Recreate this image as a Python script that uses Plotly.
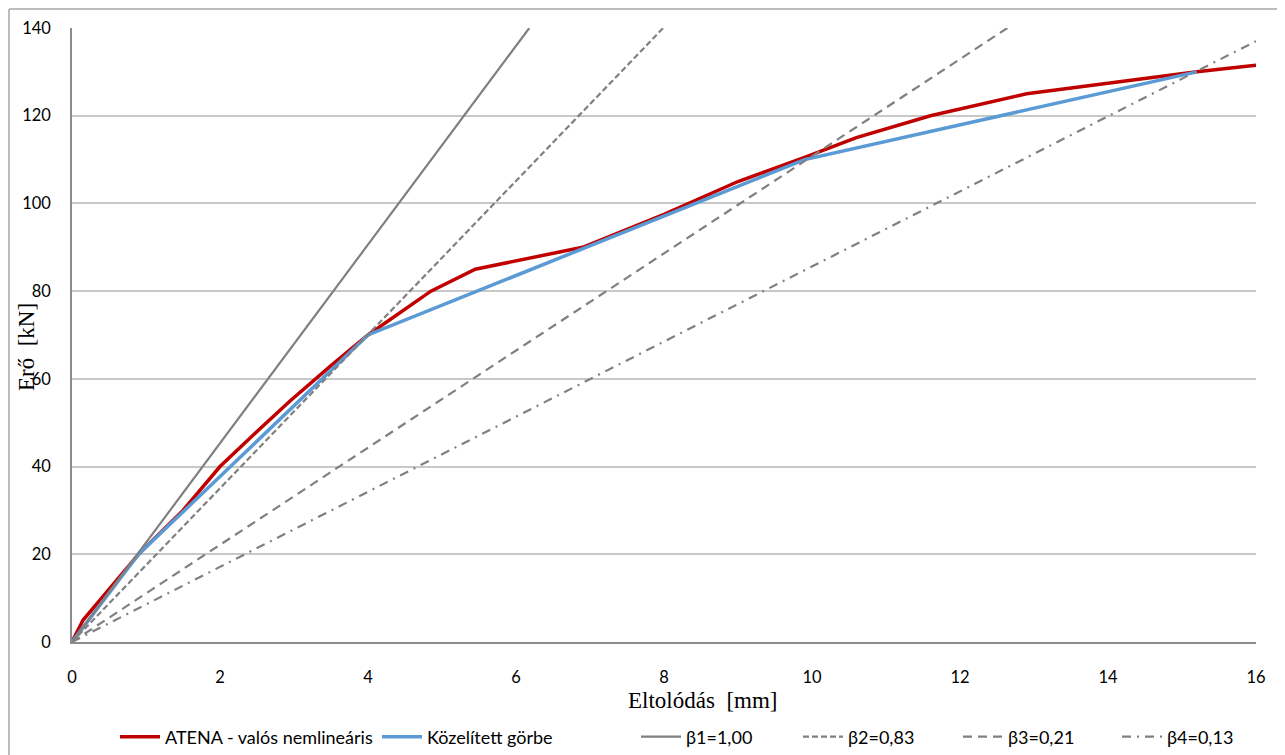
import plotly.graph_objects as go

# ATENA - valós nemlineáris
atena_x = [0, 0.15, 0.4, 0.9, 1.5, 2.0, 2.5, 2.95, 3.5, 4.0, 4.85, 5.45, 6.9, 8.0, 9.0, 9.9, 10.6, 11.6, 12.9, 15.2, 16.0]
atena_y = [0, 5, 10, 20, 30, 40, 48, 55, 63, 70, 80, 85, 90, 97.5, 105, 110.5, 115, 120, 125, 130, 131.5]

# Közelített görbe
kozel_x = [0, 0.9, 4.0, 9.9, 15.2]
kozel_y = [0, 20, 70, 110, 130]

# beta lines (two end points each)
b1_x = [0, 6.18]
b1_y = [0, 140]
b2_x = [0, 7.99]
b2_y = [0, 140]
b3_x = [0, 12.64]
b3_y = [0, 140]
b4_x = [0, 16.0]
b4_y = [0, 137]

names = ["ATENA - valós nemlineáris", "Közelített görbe", "β1=1,00", "β2=0,83", "β3=0,21", "β4=0,13"]

x_ticks = [0, 2, 4, 6, 8, 10, 12, 14, 16]
y_ticks = [0, 20, 40, 60, 80, 100, 120, 140]

GRAY = "#808080"
OFF = 8  # page body margin
W, H = 1285 - OFF, 755 - OFF
# plot area in screen pixels: x 72..1256, y 28..642
L, T = 72 - OFF, 28 - OFF
R = W - (1256 - OFF)
B = H - (642 - OFF)
PW, PH = W - L - R, H - T - B


def sx_paper(sx):
    return (sx - OFF - L) / PW


def sy_paper(sy):
    return (H - B - (sy - OFF)) / PH


def sx_cont(sx):
    return (sx - OFF) / W


def sy_cont(sy):
    return 1 - (sy - OFF) / H


legend_font = dict(family="Lato, Carlito, Liberation Sans, sans-serif", size=18, color="#000000")
tick_font = dict(family="Lato, Carlito, Liberation Sans, sans-serif", size=16.5, color="#000000")
title_font = dict(family="Liberation Serif, Times New Roman, serif", size=23, color="#000000")

legend_ids = ["legend", "legend2", "legend3", "legend4", "legend5", "legend6"]
legend_text_px = [166, 428, 687, 849, 1009, 1168]

fig = go.Figure()
styles = [
    dict(color="#C00000", width=3.5),
    dict(color="#5B9BD5", width=3.5),
    dict(color=GRAY, width=2.2),
    dict(color=GRAY, width=2.2, dash="6px,3px"),
    dict(color=GRAY, width=2.2, dash="9px,6px"),
    dict(color=GRAY, width=2.2, dash="9px,6px,2px,6px"),
]
xs = [atena_x, kozel_x, b1_x, b2_x, b3_x, b4_x]
ys = [atena_y, kozel_y, b1_y, b2_y, b3_y, b4_y]
for i in range(6):
    fig.add_trace(go.Scatter(x=xs[i], y=ys[i], mode="lines", name=names[i],
                             line=styles[i], legend=legend_ids[i]))

layout_legends = {}
for i, lid in enumerate(legend_ids):
    layout_legends[lid] = dict(orientation="h", xref="container", yref="container",
                               x=sx_cont(legend_text_px[i] - 51), xanchor="left",
                               y=sy_cont(737), yanchor="middle", font=legend_font,
                               bgcolor="rgba(0,0,0,0)", itemwidth=40)

border = dict(color="#A6A6A6", width=1.5)
fig.update_layout(
    width=W, height=H,
    margin=dict(l=L, r=R, t=T, b=B),
    paper_bgcolor="white", plot_bgcolor="white",
    showlegend=True,
    xaxis=dict(range=[0, 16], tickvals=x_ticks, ticktext=[str(v) for v in x_ticks],
               showgrid=False, zeroline=False, showline=True, linecolor="#8C8C8C", linewidth=1.5,
               tickfont=tick_font, ticks="", ticklabelstandoff=19, automargin=False),
    yaxis=dict(range=[0, 140], tickvals=y_ticks, ticktext=[str(v) for v in y_ticks],
               showgrid=True, gridcolor="#C8C8C8", gridwidth=1.5, zeroline=False,
               showline=True, linecolor="#8C8C8C", linewidth=1.5,
               tickfont=tick_font, ticks="", ticklabelstandoff=16, automargin=False),
    annotations=[
        dict(text="Eltolódás\u00a0\u00a0[mm]", xref="paper", yref="paper",
             x=sx_paper(702), y=sy_paper(700), xanchor="center", yanchor="middle",
             showarrow=False, font=title_font),
        dict(text="Erő\u00a0\u00a0[kN]", xref="paper", yref="paper", textangle=-90,
             x=sx_paper(26), y=sy_paper(347), xanchor="center", yanchor="middle",
             showarrow=False, font=title_font),
    ],
    shapes=[
        dict(type="line", xref="paper", yref="paper",
             x0=sx_paper(OFF + 1), x1=sx_paper(OFF + 1), y0=sy_paper(OFF + 1), y1=sy_paper(760),
             line=border, layer="below"),
        dict(type="line", xref="paper", yref="paper",
             x0=sx_paper(OFF + 1), x1=sx_paper(1290), y0=sy_paper(OFF + 1), y1=sy_paper(OFF + 1),
             line=border, layer="below"),
    ],
    **layout_legends,
)

fig.write_html("out.html")
